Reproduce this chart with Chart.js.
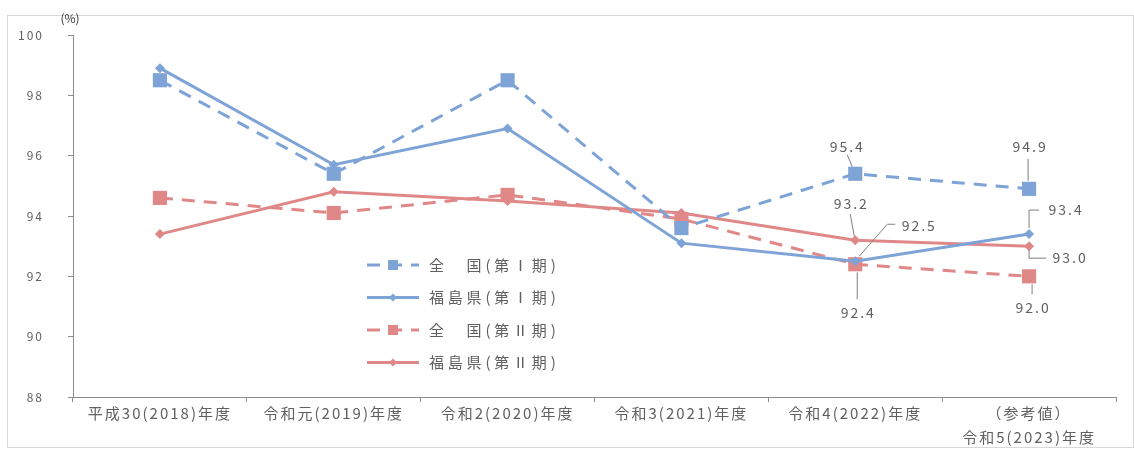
<!DOCTYPE html>
<html>
<head>
<meta charset="utf-8">
<script src="https://cdn.jsdelivr.net/npm/chart.js@4/dist/chart.umd.min.js"></script>
<style>
  html, body { margin: 0; padding: 0; background: #fff; }
  #wrap { position: relative; width: 1134px; height: 452px; }
</style>
</head>
<body>
<div id="wrap"><canvas id="c" width="1134" height="452"></canvas></div>
<script>
// ---- data ----
const categories = [
  '平成30(2018)年度',
  '令和元(2019)年度',
  '令和2(2020)年度',
  '令和3(2021)年度',
  '令和4(2022)年度',
  ['（参考値）', '令和5(2023)年度']
];
const zenkoku1 = [98.5, 95.4, 98.5, 93.6, 95.4, 94.9];
const fukushima1 = [98.9, 95.7, 96.9, 93.1, 92.5, 93.4];
const zenkoku2 = [94.6, 94.1, 94.7, 93.9, 92.4, 92.0];
const fukushima2 = [93.4, 94.8, 94.5, 94.1, 93.2, 93.0];
const seriesNames = ['全　国(第Ⅰ期)', '福島県(第Ⅰ期)', '全　国(第Ⅱ期)', '福島県(第Ⅱ期)'];
const yTicks = [88, 90, 92, 94, 96, 98, 100];
const unitLabel = '(%)';

const BLUE = '#7EA3D7';
const RED = '#E08888';
const TXT = '#606060';
const FONT = '"Noto Sans CJK JP", "Noto Sans", sans-serif';

// labels shown on the last two categories: [datasetIndex, pointIndex, labelDx, labelDy, leader path (relative to point)]
const labelSpecs = [
  [0, 4, -9, -27, [[-8, -19], [-3, -7]]],
  [0, 5, 0, -42, [[-1, -30], [-1, -8]]],
  [3, 4, -5, -36, [[-5, -26], [-1, -4]]],
  [1, 4, 63, -36, [[4, -5], [32, -37], [40, -37]]],
  [2, 4, 2, 48, [[2, 8], [2, 35]]],
  [1, 5, 36, -24, [[0, -6], [0, -24], [10, -24]]],
  [3, 5, 40, 12, [[0, 4], [0, 12], [17, 12]]],
  [2, 5, 3, 31, [[3, 8], [3, 18]]]
];

const decorPlugin = {
  id: 'decor',
  beforeDraw(chart) {
    const ctx = chart.ctx;
    ctx.save();
    ctx.fillStyle = '#fff';
    ctx.fillRect(0, 0, chart.width, chart.height);
    ctx.strokeStyle = '#d9d9d9';
    ctx.lineWidth = 1;
    ctx.strokeRect(7.5, 15.5, 1126, 432);
    ctx.restore();
  },
  beforeDatasetsDraw(chart) {
    chart.ctx.letterSpacing = '0px';
  },
  afterDraw(chart) {
    const ctx = chart.ctx;
    ctx.save();
    // unit label
    ctx.letterSpacing = '0px';
    ctx.fillStyle = '#333';
    ctx.font = '12px ' + FONT;
    ctx.textAlign = 'center';
    ctx.textBaseline = 'middle';
    ctx.fillText(unitLabel, 70, 18);

    // data labels with leader lines
    ctx.font = '14px ' + FONT;
    ctx.letterSpacing = '2px';
    ctx.fillStyle = TXT;
    ctx.strokeStyle = '#7f7f7f';
    ctx.lineWidth = 1;
    labelSpecs.forEach(([di, pi, dx, dy, path]) => {
      const pt = chart.getDatasetMeta(di).data[pi];
      const v = chart.data.datasets[di].data[pi];
      if (path) {
        ctx.beginPath();
        path.forEach(([px, py], k) => {
          if (k === 0) ctx.moveTo(pt.x + px, pt.y + py);
          else ctx.lineTo(pt.x + px, pt.y + py);
        });
        ctx.stroke();
      }
      ctx.fillText(v.toFixed(1), pt.x + dx + 1, pt.y + dy);
    });

    // legend inside plot
    const lx = 367, ly0 = 265, lstep = 32.5;
    chart.data.datasets.forEach((ds, i) => {
      const y = ly0 + i * lstep;
      ctx.save();
      ctx.strokeStyle = ds.borderColor;
      ctx.lineWidth = 3;
      ctx.setLineDash(ds.borderDash || []);
      ctx.beginPath();
      ctx.moveTo(lx, y);
      ctx.lineTo(lx + 52, y);
      ctx.stroke();
      ctx.setLineDash([]);
      ctx.fillStyle = ds.pointBackgroundColor;
      const cx = lx + 26;
      if (ds.pointStyle === 'rect') {
        ctx.fillRect(cx - 5, y - 5, 10, 10);
      } else {
        ctx.beginPath();
        ctx.moveTo(cx, y - 4); ctx.lineTo(cx + 4, y); ctx.lineTo(cx, y + 4); ctx.lineTo(cx - 4, y);
        ctx.closePath();
        ctx.fill();
      }
      ctx.restore();
      ctx.fillStyle = TXT;
      ctx.font = '15px ' + FONT;
      ctx.letterSpacing = '3.8px';
      ctx.textAlign = 'left';
      ctx.textBaseline = 'middle';
      ctx.fillText(ds.label, lx + 62, y);
    });
    ctx.restore();
  }
};

// x tick labels get wider letter spacing like the reference
const spacingPlugin = {
  id: 'spacing',
  beforeDraw(chart) { chart.ctx.letterSpacing = '2px'; },
  beforeLayout(chart) { chart.ctx.letterSpacing = '2px'; }
};

function ds(label, data, color, dashed, square) {
  return {
    label, data,
    borderColor: color,
    backgroundColor: color,
    pointBackgroundColor: color,
    pointBorderColor: color,
    borderWidth: 3,
    borderDash: dashed ? [13, 9] : [],
    pointStyle: square ? 'rect' : 'rectRot',
    pointRadius: square ? 10 : 5,
    pointBorderWidth: 0,
    tension: 0,
    fill: false
  };
}

new Chart(document.getElementById('c'), {
  type: 'line',
  data: {
    labels: categories,
    datasets: [
      ds(seriesNames[0], zenkoku1, BLUE, true, true),
      ds(seriesNames[1], fukushima1, BLUE, false, false),
      ds(seriesNames[2], zenkoku2, RED, true, true),
      ds(seriesNames[3], fukushima2, RED, false, false)
    ]
  },
  options: {
    responsive: false,
    animation: false,
    devicePixelRatio: 1,
    layout: { padding: { top: 35, right: 18, bottom: 5, left: 0 } },
    plugins: { legend: { display: false }, tooltip: { enabled: false } },
    scales: {
      x: {
        offset: true,
        grid: { offset: true, drawOnChartArea: false, drawTicks: true, tickLength: 5, color: '#8c8c8c' },
        border: { color: '#8c8c8c', width: 1 },
        ticks: { color: TXT, font: { family: FONT, size: 15, lineHeight: 1.55 }, padding: 0, maxRotation: 0, autoSkip: false },
        afterFit(scale) { scale.height = 50; }
      },
      y: {
        min: yTicks[0],
        max: yTicks[yTicks.length - 1],
        afterBuildTicks(scale) { scale.ticks = yTicks.map(v => ({ value: v })); },
        grid: { drawOnChartArea: false, drawTicks: true, tickLength: 5, color: '#8c8c8c' },
        border: { color: '#8c8c8c', width: 1 },
        ticks: { color: TXT, font: { family: FONT, size: 12 }, padding: 24 },
        afterFit(scale) { scale.width = 73; }
      }
    }
  },
  plugins: [spacingPlugin, decorPlugin]
});
</script>
</body>
</html>
